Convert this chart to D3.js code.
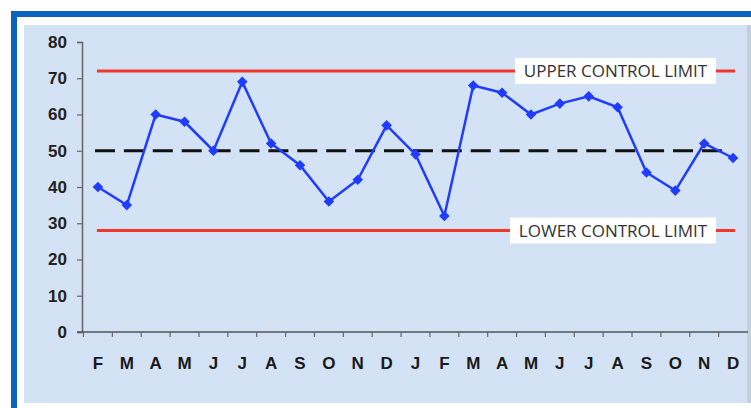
<!DOCTYPE html>
<html>
<head>
<meta charset="utf-8">
<script src="https://cdn.jsdelivr.net/npm/d3@7"></script>
<style>
  html, body { margin: 0; padding: 0; background: #ffffff; }
  svg { display: block; }
</style>
</head>
<body>
<div id="chart"></div>
<script>
const months = ['F', 'M', 'A', 'M', 'J', 'J', 'A', 'S', 'O', 'N', 'D',
                'J', 'F', 'M', 'A', 'M', 'J', 'J', 'A', 'S', 'O', 'N', 'D'];
const values = [40, 35, 60, 58, 50, 69, 52, 46, 36, 42, 57,
                49, 32, 68, 66, 60, 63, 65, 62, 44, 39, 52, 48];
const yTicks = [0, 10, 20, 30, 40, 50, 60, 70, 80];
const upperLimit = 72;
const lowerLimit = 28;
const meanLine = 50;
const limitLabels = ['UPPER CONTROL LIMIT', 'LOWER CONTROL LIMIT'];

const width = 751;
const height = 408;

const svg = d3.select('#chart')
    .append('svg')
    .attr('width', width)
    .attr('height', height);

// Moldura azul e fundo do gráfico
svg.append('rect')
    .attr('x', 24).attr('y', 25)
    .attr('width', 723).attr('height', 378)
    .attr('fill', '#d3e2f4');
svg.append('rect')
    .attr('x', 747).attr('y', 25)
    .attr('width', 4).attr('height', 378)
    .attr('fill', '#c3cfdd');
svg.append('rect')
    .attr('x', 11).attr('y', 11)
    .attr('width', 740).attr('height', 6)
    .attr('fill', '#0b63be');
svg.append('rect')
    .attr('x', 11).attr('y', 11)
    .attr('width', 6).attr('height', 397)
    .attr('fill', '#0b63be');

// Escalas
const x = d3.scaleBand()
    .domain(d3.range(months.length))
    .range([83.5, 747.5])
    .padding(0);
const y = d3.scaleLinear()
    .domain([0, 80])
    .range([332, 42]);
const cx = i => x(i) + x.bandwidth() / 2;

// Eixo Y
const yAxis = svg.append('g')
    .attr('transform', 'translate(82,0)')
    .call(d3.axisLeft(y).tickValues(yTicks).tickSize(5).tickPadding(10));
yAxis.select('.domain').attr('stroke', '#666').attr('stroke-width', 1.5);
yAxis.selectAll('.tick line').attr('stroke', '#666').attr('stroke-width', 1.2);
yAxis.selectAll('.tick text')
    .attr('font-family', 'Liberation Sans, Arial, sans-serif')
    .attr('font-weight', 'bold')
    .attr('font-size', '17px')
    .attr('fill', '#222');

// Eixo X
svg.append('line')
    .attr('x1', 77).attr('x2', 748)
    .attr('y1', y(0)).attr('y2', y(0))
    .attr('stroke', '#555').attr('stroke-width', 1.5);
svg.append('g')
    .selectAll('line')
    .data(d3.range(months.length))
    .enter()
    .append('line')
    .attr('x1', d => x(d)).attr('x2', d => x(d))
    .attr('y1', y(0)).attr('y2', y(0) + 5)
    .attr('stroke', '#666').attr('stroke-width', 1.2);
svg.append('g')
    .selectAll('text')
    .data(months)
    .enter()
    .append('text')
    .attr('x', (d, i) => cx(i))
    .attr('y', 369)
    .attr('text-anchor', 'middle')
    .attr('font-family', 'Liberation Sans, Arial, sans-serif')
    .attr('font-weight', 'bold')
    .attr('font-size', '17px')
    .attr('fill', '#1a1a1a')
    .text(d => d);

// Limites de controle
const lineStart = cx(0) - 1;
const lineEnd = cx(months.length - 1) + 2;
[upperLimit, lowerLimit].forEach(v => {
    svg.append('line')
        .attr('x1', lineStart).attr('x2', lineEnd)
        .attr('y1', y(v)).attr('y2', y(v))
        .attr('stroke', '#f2362a').attr('stroke-width', 3);
});

// Linha média tracejada
svg.append('line')
    .attr('x1', 95).attr('x2', 728)
    .attr('y1', y(meanLine)).attr('y2', y(meanLine))
    .attr('stroke', '#111').attr('stroke-width', 3)
    .attr('stroke-dasharray', '20,8.9');

// Série
const line = d3.line()
    .x((d, i) => cx(i))
    .y(d => y(d));
svg.append('path')
    .datum(values)
    .attr('d', line)
    .attr('fill', 'none')
    .attr('stroke', '#1f3cff')
    .attr('stroke-width', 2.5);
svg.append('g')
    .selectAll('path')
    .data(values)
    .enter()
    .append('path')
    .attr('d', d3.symbol().type(d3.symbolSquare).size(56))
    .attr('transform', (d, i) => `translate(${cx(i)},${y(d)}) rotate(45)`)
    .attr('fill', '#1f3cff');

// Rótulos dos limites
const labelBoxes = [
    { text: limitLabels[0], v: upperLimit, x0: 515, x1: 716 },
    { text: limitLabels[1], v: lowerLimit, x0: 510, x1: 716 }
];
labelBoxes.forEach(b => {
    svg.append('rect')
        .attr('x', b.x0).attr('y', y(b.v) - 13)
        .attr('width', b.x1 - b.x0).attr('height', 26)
        .attr('fill', '#ffffff');
    svg.append('text')
        .attr('x', (b.x0 + b.x1) / 2)
        .attr('y', y(b.v) + 6)
        .attr('text-anchor', 'middle')
        .attr('font-family', 'Open Sans, sans-serif')
        .attr('font-size', '17px')
        .attr('fill', '#333')
        .text(b.text);
});
</script>
</body>
</html>
